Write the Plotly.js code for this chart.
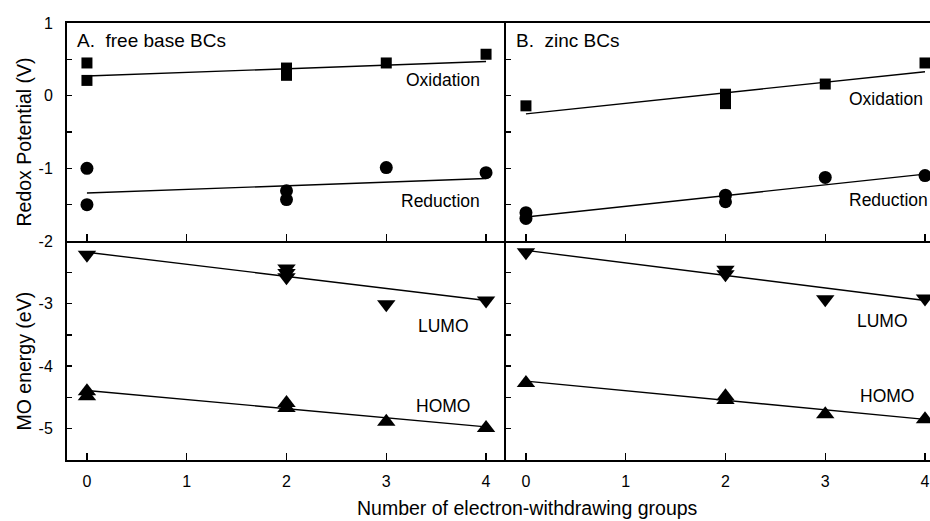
<!DOCTYPE html>
<html>
<head>
<meta charset="utf-8">
<script src="https://cdn.plot.ly/plotly-3.0.1.min.js"></script>
<style>html,body{margin:0;padding:0;background:#fff;}#chart{width:930px;height:521px;}</style>
</head>
<body>
<div id="chart"></div>
<script>
// ---- data ----
const fitX = [0, 4];

// Panel A: free base BCs
const aOxX = [0, 0, 2, 2, 3, 4];
const aOxY = [0.45, 0.21, 0.38, 0.28, 0.45, 0.57];
const aOxFit = [0.27, 0.47];
const aRedX = [0, 0, 2, 2, 3, 4];
const aRedY = [-1.0, -1.5, -1.31, -1.43, -0.99, -1.06];
const aRedFit = [-1.34, -1.14];
const aLumoX = [0, 2, 2, 2, 3, 4];
const aLumoY = [-2.22, -2.44, -2.51, -2.58, -3.01, -2.95];
const aLumoFit = [-2.18, -2.95];
const aHomoX = [0, 0, 2, 2, 3, 4];
const aHomoY = [-4.40, -4.48, -4.59, -4.67, -4.89, -4.99];
const aHomoFit = [-4.39, -4.97];

// Panel B: zinc BCs
const bOxX = [0, 2, 2, 3, 4];
const bOxY = [-0.14, 0.02, -0.11, 0.16, 0.45];
const bOxFit = [-0.25, 0.33];
const bRedX = [0, 0, 2, 2, 3, 4];
const bRedY = [-1.61, -1.69, -1.37, -1.46, -1.125, -1.10];
const bRedFit = [-1.67, -1.08];
const bLumoX = [0, 2, 2, 3, 4];
const bLumoY = [-2.18, -2.46, -2.53, -2.93, -2.92];
const bLumoFit = [-2.15, -2.95];
const bHomoX = [0, 2, 2, 3, 4];
const bHomoY = [-4.27, -4.48, -4.54, -4.77, -4.85];
const bHomoFit = [-4.24, -4.85];

// tick labels
const xTickVals = [0, 1, 2, 3, 4];
const xTickText = ['0', '1', '2', '3', '4'];
const topTickVals = [1, 0.5, 0, -0.5, -1, -1.5, -2];
const topTickText = ['1', '', '0', '', '-1', '', '-2'];
const botTickVals = [-2.5, -3, -3.5, -4, -4.5, -5];
const botTickText = ['', '-3', '', '-4', '', '-5'];

// ---- layout geometry (pixels -> paper) ----
const W = 930, H = 521;
const px = v => v / W;
const py = v => 1 - v / H;
const FONT = 'Liberation Sans, Arial, Helvetica, sans-serif';

function pts(x, y, sym, size, xa, ya) {
  return {x: x, y: y, xaxis: xa, yaxis: ya, type: 'scatter', mode: 'markers', cliponaxis: false,
    marker: {symbol: sym, size: size, color: '#000'}, hoverinfo: 'x+y', showlegend: false};
}
function fit(y, xa, ya) {
  return {x: fitX, y: y, xaxis: xa, yaxis: ya, type: 'scatter', mode: 'lines',
    line: {color: '#000', width: 1.4}, hoverinfo: 'skip', showlegend: false};
}

const data = [
  fit(aOxFit, 'x', 'y'), pts(aOxX, aOxY, 'square', 11, 'x', 'y'),
  fit(aRedFit, 'x', 'y'), pts(aRedX, aRedY, 'circle', 13, 'x', 'y'),
  fit(bOxFit, 'x2', 'y2'), pts(bOxX, bOxY, 'square', 11, 'x2', 'y2'),
  fit(bRedFit, 'x2', 'y2'), pts(bRedX, bRedY, 'circle', 13, 'x2', 'y2'),
  fit(aLumoFit, 'x3', 'y3'), pts(aLumoX, aLumoY, 'triangle-down', 16, 'x3', 'y3'),
  fit(aHomoFit, 'x3', 'y3'), pts(aHomoX, aHomoY, 'triangle-up', 16, 'x3', 'y3'),
  fit(bLumoFit, 'x4', 'y4'), pts(bLumoX, bLumoY, 'triangle-down', 16, 'x4', 'y4'),
  fit(bHomoFit, 'x4', 'y4'), pts(bHomoX, bHomoY, 'triangle-up', 16, 'x4', 'y4')
];

const domA = [px(67), px(506)];
const domB = [px(506), 1];
const domTop = [py(241), py(23)];
const domBot = [py(460), py(241)];

function xax(dom, anchor, rng, labels, mirror) {
  return {domain: dom, anchor: anchor, range: rng, showline: true, linewidth: 2, linecolor: '#000',
    mirror: mirror, ticks: 'inside', ticklen: 7, tickwidth: 1.5, tickcolor: '#000',
    tickvals: xTickVals, ticktext: xTickText, showticklabels: labels, ticklabelstandoff: 6,
    showgrid: false, zeroline: false, fixedrange: true,
    tickfont: {family: FONT, size: 16, color: '#000'}};
}
function yax(dom, anchor, rng, vals, text, labels) {
  return {domain: dom, anchor: anchor, range: rng, showline: true, linewidth: 2, linecolor: '#000',
    ticks: 'inside', ticklen: 5, tickwidth: 1.5, tickcolor: '#000',
    tickvals: vals, ticktext: text, showticklabels: labels, ticklabelstandoff: 9,
    showgrid: false, zeroline: false, fixedrange: true,
    tickfont: {family: FONT, size: 16, color: '#000'}};
}

function ann(text, x, y, size, xanchor, angle) {
  return {text: text, xref: 'paper', yref: 'paper', x: px(x), y: py(y), showarrow: false,
    xanchor: xanchor || 'center', yanchor: 'middle', textangle: angle || 0,
    font: {family: FONT, size: size, color: '#000'}};
}

const layout = {
  width: W, height: H,
  margin: {l: 0, r: 0, t: 0, b: 0},
  paper_bgcolor: '#fff', plot_bgcolor: 'rgba(0,0,0,0)',
  showlegend: false,
  xaxis: xax(domA, 'y', [-0.2, 4.2], false, true),
  yaxis: yax(domTop, 'x', [-2, 1], topTickVals, topTickText, true),
  xaxis2: xax(domB, 'y2', [-0.2, 4.05], false, true),
  yaxis2: yax(domTop, 'x2', [-2, 1], topTickVals, topTickText, false),
  xaxis3: xax(domA, 'y3', [-0.2, 4.2], true, false),
  yaxis3: yax(domBot, 'x3', [-5.5, -2], botTickVals, botTickText, true),
  xaxis4: xax(domB, 'y4', [-0.2, 4.05], true, false),
  yaxis4: yax(domBot, 'x4', [-5.5, -2], botTickVals, botTickText, false),
  annotations: [
    ann('A.&nbsp;&nbsp;free base BCs', 75, 40.5, 19, 'left'),
    ann('B.&nbsp;&nbsp;zinc BCs', 514, 40.5, 19, 'left'),
    ann('Oxidation', 443, 80, 17.5),
    ann('Reduction', 440, 201, 17.5),
    ann('Oxidation', 886, 99, 17.5),
    ann('Reduction', 888, 200, 17.5),
    ann('LUMO', 443, 326, 17.5),
    ann('HOMO', 443, 406, 17.5),
    ann('LUMO', 882, 321, 17.5),
    ann('HOMO', 887, 396, 17.5),
    ann('Redox Potential (V)', 23.5, 142, 19.5, 'center', -90),
    ann('MO energy (eV)', 23.5, 361, 19.5, 'center', -90),
    ann('Number of electron-withdrawing groups', 527, 508, 19.5)
  ]
};

Plotly.newPlot('chart', data, layout, {displayModeBar: false, staticPlot: true});
</script>
</body>
</html>
